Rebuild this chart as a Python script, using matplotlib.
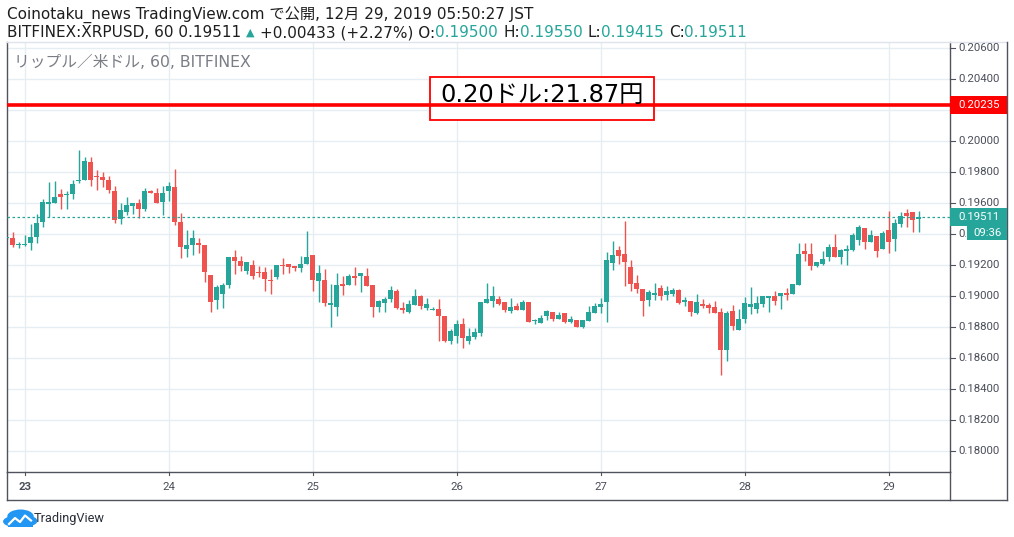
import matplotlib
matplotlib.use('Agg')
import matplotlib.pyplot as plt
from matplotlib.patches import Rectangle, Circle
from matplotlib.lines import Line2D
from matplotlib.transforms import Bbox
import matplotlib.transforms as mtransforms
import numpy as np
import pandas as pd

# ---------------- data (BITFINEX XRPUSD, 60 min) ----------------
start_time = '2019-12-22 21:00'

opens = [
    0.19375, 0.19377, 0.19329, 0.19329, 0.19342, 0.19381, 0.19478, 0.19594, 0.19604, 0.19662,
    0.19652, 0.19658, 0.19742, 0.19748, 0.19869, 0.19772, 0.19772, 0.19753, 0.19682, 0.19497,
    0.19542, 0.19581, 0.19604, 0.19561, 0.19682, 0.19669, 0.19607, 0.19678, 0.19708, 0.19482,
    0.19303, 0.19329, 0.19346, 0.19334, 0.19140, 0.18974, 0.19013, 0.19071, 0.19256, 0.19230,
    0.19162, 0.19205, 0.19159, 0.19159, 0.19101, 0.19123, 0.19205, 0.19211, 0.19194, 0.19181,
    0.19207, 0.19267, 0.19101, 0.19106, 0.18946, 0.18934, 0.19080, 0.19075, 0.19131, 0.19133,
    0.19131, 0.19073, 0.18934, 0.18959, 0.18983, 0.19035, 0.18927, 0.18901, 0.18946, 0.19002,
    0.18927, 0.18914, 0.18918, 0.18873, 0.18714, 0.18746, 0.18822, 0.18714, 0.18740, 0.18766,
    0.18959, 0.18972, 0.18983, 0.18964, 0.18908, 0.18938, 0.18914, 0.18964, 0.18843, 0.18830,
    0.18875, 0.18899, 0.18856, 0.18893, 0.18837, 0.18848, 0.18805, 0.18843, 0.18895, 0.18934,
    0.18966, 0.19217, 0.19299, 0.19273, 0.19189, 0.19086, 0.19047, 0.18979, 0.19011, 0.19054,
    0.19011, 0.19017, 0.19041, 0.18966, 0.18970, 0.18895, 0.18951, 0.18944, 0.18931, 0.18899,
    0.18656, 0.18905, 0.18785, 0.18856, 0.18934, 0.18921, 0.18953, 0.18992, 0.19002, 0.19004,
    0.19022, 0.19017, 0.19075, 0.19293, 0.19273, 0.19198, 0.19211, 0.19256, 0.19318, 0.19256,
    0.19295, 0.19301, 0.19366, 0.19441, 0.19353, 0.19389, 0.19308, 0.19428, 0.19372, 0.19469,
    0.19538, 0.19544, 0.19500]

highs = [
    0.19380, 0.19415, 0.19351, 0.19396, 0.19469, 0.19533, 0.19630, 0.19740, 0.19746, 0.19695,
    0.19678, 0.19753, 0.19946, 0.19901, 0.19901, 0.19817, 0.19804, 0.19779, 0.19714, 0.19604,
    0.19643, 0.19604, 0.19630, 0.19701, 0.19688, 0.19701, 0.19714, 0.19740, 0.19824, 0.19540,
    0.19430, 0.19430, 0.19379, 0.19334, 0.19140, 0.19073, 0.19088, 0.19256, 0.19301, 0.19258,
    0.19224, 0.19237, 0.19198, 0.19192, 0.19179, 0.19205, 0.19250, 0.19211, 0.19194, 0.19263,
    0.19424, 0.19267, 0.19202, 0.19176, 0.19080, 0.19151, 0.19131, 0.19144, 0.19189, 0.19151,
    0.19183, 0.19073, 0.18979, 0.18996, 0.19067, 0.19047, 0.18966, 0.18977, 0.19047, 0.19009,
    0.18989, 0.18934, 0.18983, 0.18873, 0.18789, 0.18848, 0.18860, 0.18796, 0.18796, 0.18964,
    0.19086, 0.19067, 0.19002, 0.18964, 0.18989, 0.18957, 0.18977, 0.18964, 0.18856, 0.18880,
    0.18912, 0.18899, 0.18899, 0.18893, 0.18873, 0.18848, 0.18848, 0.18938, 0.18957, 0.18989,
    0.19286, 0.19357, 0.19325, 0.19486, 0.19235, 0.19138, 0.19047, 0.19041, 0.19086, 0.19073,
    0.19067, 0.19054, 0.19047, 0.18996, 0.18970, 0.19015, 0.18983, 0.18957, 0.18970, 0.18925,
    0.18905, 0.18944, 0.18918, 0.18996, 0.19060, 0.19002, 0.19002, 0.19002, 0.19035, 0.19022,
    0.19054, 0.19080, 0.19344, 0.19344, 0.19344, 0.19222, 0.19293, 0.19338, 0.19402, 0.19305,
    0.19331, 0.19409, 0.19460, 0.19441, 0.19428, 0.19389, 0.19422, 0.19551, 0.19499, 0.19544,
    0.19563, 0.19544, 0.19550]

lows = [
    0.19372, 0.19316, 0.19310, 0.19323, 0.19297, 0.19342, 0.19445, 0.19512, 0.19600, 0.19561,
    0.19561, 0.19626, 0.19729, 0.19748, 0.19710, 0.19684, 0.19703, 0.19665, 0.19471, 0.19465,
    0.19527, 0.19529, 0.19503, 0.19549, 0.19665, 0.19604, 0.19527, 0.19613, 0.19458, 0.19245,
    0.19254, 0.19265, 0.19278, 0.19091, 0.18897, 0.18916, 0.18923, 0.19052, 0.19142, 0.19162,
    0.19142, 0.19110, 0.19125, 0.19033, 0.19013, 0.19110, 0.19142, 0.19149, 0.19162, 0.19155,
    0.19207, 0.19037, 0.18966, 0.18940, 0.18805, 0.18875, 0.19011, 0.19075, 0.19075, 0.19030,
    0.19069, 0.18869, 0.18901, 0.18901, 0.18966, 0.18921, 0.18895, 0.18895, 0.18946, 0.18921,
    0.18914, 0.18914, 0.18714, 0.18708, 0.18695, 0.18701, 0.18669, 0.18695, 0.18727, 0.18746,
    0.18959, 0.18934, 0.18946, 0.18901, 0.18895, 0.18914, 0.18914, 0.18837, 0.18824, 0.18830,
    0.18850, 0.18843, 0.18856, 0.18830, 0.18830, 0.18805, 0.18798, 0.18843, 0.18895, 0.18895,
    0.18837, 0.19172, 0.19211, 0.19067, 0.19037, 0.19024, 0.18875, 0.18940, 0.18979, 0.18979,
    0.18979, 0.19004, 0.18953, 0.18940, 0.18875, 0.18888, 0.18927, 0.18895, 0.18895, 0.18495,
    0.18585, 0.18785, 0.18785, 0.18830, 0.18888, 0.18895, 0.18934, 0.18901, 0.18946, 0.18921,
    0.18979, 0.19017, 0.19075, 0.19228, 0.19172, 0.19192, 0.19204, 0.19230, 0.19256, 0.19211,
    0.19204, 0.19295, 0.19333, 0.19308, 0.19353, 0.19256, 0.19308, 0.19282, 0.19295, 0.19450,
    0.19450, 0.19417, 0.19415]

closes = [
    0.19377, 0.19329, 0.19334, 0.19340, 0.19383, 0.19475, 0.19611, 0.19611, 0.19643, 0.19639,
    0.19662, 0.19727, 0.19753, 0.19875, 0.19748, 0.19768, 0.19748, 0.19684, 0.19490, 0.19559,
    0.19592, 0.19604, 0.19561, 0.19682, 0.19665, 0.19604, 0.19669, 0.19712, 0.19478, 0.19316,
    0.19331, 0.19379, 0.19329, 0.19155, 0.18962, 0.19063, 0.19076, 0.19256, 0.19226, 0.19194,
    0.19224, 0.19129, 0.19153, 0.19110, 0.19097, 0.19205, 0.19194, 0.19187, 0.19181, 0.19211,
    0.19256, 0.19106, 0.19151, 0.18959, 0.18957, 0.19073, 0.19069, 0.19131, 0.19121, 0.19151,
    0.19069, 0.18934, 0.18970, 0.18983, 0.19041, 0.18925, 0.18914, 0.18951, 0.19002, 0.18940,
    0.18951, 0.18921, 0.18873, 0.18714, 0.18777, 0.18822, 0.18734, 0.18744, 0.18770, 0.18964,
    0.18983, 0.19002, 0.18953, 0.18914, 0.18931, 0.18914, 0.18964, 0.18837, 0.18850, 0.18860,
    0.18906, 0.18856, 0.18880, 0.18837, 0.18854, 0.18805, 0.18848, 0.18899, 0.18938, 0.18951,
    0.19235, 0.19267, 0.19262, 0.19224, 0.19082, 0.19050, 0.18972, 0.19028, 0.19022, 0.19004,
    0.19035, 0.19041, 0.18959, 0.18979, 0.18901, 0.18964, 0.18938, 0.18927, 0.18895, 0.18656,
    0.18893, 0.18811, 0.18854, 0.18957, 0.18951, 0.18957, 0.19002, 0.19002, 0.18972, 0.19022,
    0.19011, 0.19080, 0.19273, 0.19275, 0.19198, 0.19222, 0.19241, 0.19318, 0.19256, 0.19299,
    0.19299, 0.19396, 0.19447, 0.19353, 0.19396, 0.19295, 0.19409, 0.19353, 0.19473, 0.19518,
    0.19520, 0.19495, 0.19511]

price_ticks = [0.18000, 0.18200, 0.18400, 0.18600, 0.18800, 0.19000, 0.19200,
               0.19400, 0.19600, 0.19800, 0.20000, 0.20200, 0.20400, 0.20600]
resistance_level = 0.20235
last_price = 0.19511
countdown = '09:36'
annotation_text = '0.20ドル:21.87円'
title_line1 = 'Coinotaku_news TradingView.com で公開, 12月 29, 2019 05:50:27 JST'
symbol_text = 'リップル／米ドル, 60, BITFINEX'
header_segments = [
    ('BITFINEX:XRPUSD, 60 0.19511 ', 'k'), ('▲', 't'), (' +0.00433 (+2.27%) O:', 'k'),
    ('0.19500', 't'), (' H:', 'k'), ('0.19550', 't'), (' L:', 'k'), ('0.19415', 't'),
    (' C:', 'k'), ('0.19511', 't')]

# ---------------- style ----------------
GREEN = '#26a69a'
RED = '#ef5350'
GRID = '#e6edf3'
AXIS = '#50535e'
TXT = '#4a4e59'
HEAD = '#1e1e1e'
LATIN = ['Roboto', 'Noto Sans CJK JP', 'DejaVu Sans']
WIDE = ['DejaVu Sans', 'Noto Sans CJK JP']
HEAD_SIZE = 11.0

W, H = 1014, 537
fig = plt.figure(figsize=(W / 100, H / 100), dpi=100)
fig.patch.set_facecolor('white')


def fx(x):
    return x / W


def fy(y):
    return 1 - y / H


L, R, T, B = 6.5, 950.3, 42.0, 472.3
ax = fig.add_axes([fx(L), fy(B), fx(R) - fx(L), fy(T) - fy(B)])
ax.set_facecolor('white')

# scales
px_per_unit = 15500.0
ref_price, ref_y = 0.196, 203.3
ax.set_ylim(ref_price - (B - ref_y) / px_per_unit, ref_price + (ref_y - T) / px_per_unit)
ax.set_xlim(-0.03, 157.27)

times = pd.date_range(start_time, periods=len(opens), freq='h')
xs = np.arange(len(opens))
o = np.array(opens); h = np.array(highs); l = np.array(lows); c = np.array(closes)
up = c >= o
cols = np.where(up, GREEN, RED)

day_idx = [i for i, t in enumerate(times) if t.hour == 0]
day_lab = [str(times[i].day) for i in day_idx]

# grid
for p in price_ticks:
    ax.axhline(p, color=GRID, lw=1.0, zorder=0)
for d in day_idx:
    ax.axvline(d, color=GRID, lw=1.0, zorder=0)

# candles
ax.vlines(xs, l, h, colors=cols, linewidth=1.0, zorder=2)
body_bottom = np.minimum(o, c)
body_h = np.maximum(np.abs(c - o), 0.00007)
ax.bar(xs, body_h, bottom=body_bottom, width=0.78, color=cols, linewidth=0, zorder=3)

# last price dotted line
ax.axhline(last_price, color=GREEN, lw=0.9, ls=(0, (2, 2)), zorder=3)

# annotation box
box = Rectangle((fx(430), fy(120)), fx(654.3) - fx(430), fy(77.3) - fy(120),
                transform=fig.transFigure, facecolor='white', edgecolor='#ff0000',
                lw=1.3, zorder=4)
ax.add_patch(box)
ax.axhline(resistance_level, color='#ff0000', lw=2.6, zorder=5)
ax.text(fx(440), fy(94.5), annotation_text, transform=fig.transFigure, fontsize=17.4,
        family=WIDE, color='black', va='center', ha='left', zorder=6)

ax.set_xticks([]); ax.set_yticks([])
for s in ['left', 'bottom', 'right']:
    ax.spines[s].set_color(AXIS); ax.spines[s].set_linewidth(1.0)
ax.spines['top'].set_color('#e0e3eb'); ax.spines['top'].set_linewidth(1.0)


# outer frame pieces
def fline(x0, y0, x1, y1, color=AXIS, lw=1.0, z=3):
    fig.add_artist(Line2D([fx(x0), fx(x1)], [fy(y0), fy(y1)], color=color, lw=lw,
                          transform=fig.transFigure, zorder=z))


fline(R, T, 1007.3, T, color='#e0e3eb')
fline(1007.3, T, 1007.3, 500.3)
fline(L, 500.3, 1007.3, 500.3)
fline(L, B, L, 500.3)
fline(R, B, R, 500.3)


def price_to_y(p):
    return ref_y - (p - ref_price) * px_per_unit


cd_left, cd_top, cd_bottom = 966.7, 225.8, 240.3

# price axis labels (the one hidden under the level badge is not drawn)
for p in price_ticks:
    yy = price_to_y(p)
    if yy < T + 3 or yy > B - 3:
        continue
    fline(R, yy, R + 4.5, yy, lw=0.8)
    if abs(p - resistance_level) * px_per_unit < 9:
        continue
    t = fig.text(fx(958), fy(yy), f'{p:.5f}', fontsize=8.2, family=LATIN, color=TXT,
                 va='center', ha='left', zorder=3)
    if cd_top - 8 < yy < cd_bottom + 8:
        # partly covered by the countdown badge: only the part left of it shows
        t.set_clip_box(Bbox.from_extents(0, 0, cd_left - 0.5, H))


# price axis badges
def badge(x0, x1, ymid, hgt, color, text, ha='left', tx=958):
    fig.add_artist(Rectangle((fx(x0), fy(ymid + hgt / 2)), fx(x1) - fx(x0), hgt / H,
                             transform=fig.transFigure, facecolor=color, edgecolor='none',
                             zorder=4))
    fig.text(fx(tx), fy(ymid), text, fontsize=8.2, family=LATIN, color='white',
             va='center', ha=ha, zorder=5)


badge(R, 1007.3, price_to_y(resistance_level), 18, '#ff0000', f'{resistance_level:.5f}')
badge(R, 1007.3, price_to_y(last_price), 17.5, GREEN, f'{last_price:.5f}')
badge(cd_left, 1007.3, (cd_top + cd_bottom) / 2, cd_bottom - cd_top, GREEN, countdown,
      ha='center', tx=987)

# x axis labels
btf = mtransforms.blended_transform_factory(ax.transData, fig.transFigure)
for d, lab in zip(day_idx, day_lab):
    fig.add_artist(Line2D([d, d], [fy(B), fy(B + 2.5)], transform=btf, color=AXIS, lw=0.8))
    fig.text(d, fy(487.5), lab, transform=btf, fontsize=8.2, family=LATIN, color=TXT,
             ha='center', va='center', fontweight='bold' if d == day_idx[0] else 'normal')

# symbol text inside pane
fig.text(fx(14), fy(62.5), symbol_text, fontsize=11.3, family=WIDE, color='#7a7d85',
         ha='left', va='center')

# header
fig.text(fx(7), fy(15), title_line1, fontsize=HEAD_SIZE, family=WIDE, color=HEAD,
         ha='left', va='center')
renderer = fig.canvas.get_renderer()


def wpx(s, size):
    t = fig.text(0, 0, s, fontsize=size, family=WIDE)
    w = t.get_window_extent(renderer).width
    t.remove()
    return w


space_w = wpx('a a', HEAD_SIZE) - wpx('aa', HEAD_SIZE)
xcur = 7.0
for seg, cc in header_segments:
    size = 8.0 if seg == '▲' else HEAD_SIZE
    lead = len(seg) - len(seg.lstrip(' '))
    trail = len(seg) - len(seg.rstrip(' '))
    core = seg.strip(' ')
    xcur += lead * space_w
    fig.text(fx(xcur), fy(32.5), core, fontsize=size, family=WIDE,
             color=GREEN if cc == 't' else HEAD, ha='left', va='center')
    xcur += wpx(core, size) + trail * space_w + (1.0 if seg == '▲' else 0)

# TradingView logo
logo_col = '#2196f3'
for (cx, cy, r) in [(12.5, 521.5, 5.0), (20.5, 516.5, 7.0), (28.0, 521.0, 5.0)]:
    fig.add_artist(Circle((fx(cx), fy(cy)), r / H, transform=fig.transFigure,
                          facecolor=logo_col, edgecolor='none'))
fig.add_artist(Rectangle((fx(8), fy(526.5)), fx(32.5) - fx(8), 5.5 / H,
                         transform=fig.transFigure, facecolor=logo_col, edgecolor='none'))
fig.add_artist(Line2D([fx(9), fx(15), fx(20), fx(25), fx(31)],
                      [fy(524), fy(518), fy(522), fy(515.5), fy(520.5)],
                      transform=fig.transFigure, color='white', lw=1.6))
fig.text(fx(34), fy(518.5), 'TradingView', fontsize=9.2, family=LATIN, color='#2a2e39',
         ha='left', va='center')

fig.savefig('out.png', dpi=100, facecolor='white')
